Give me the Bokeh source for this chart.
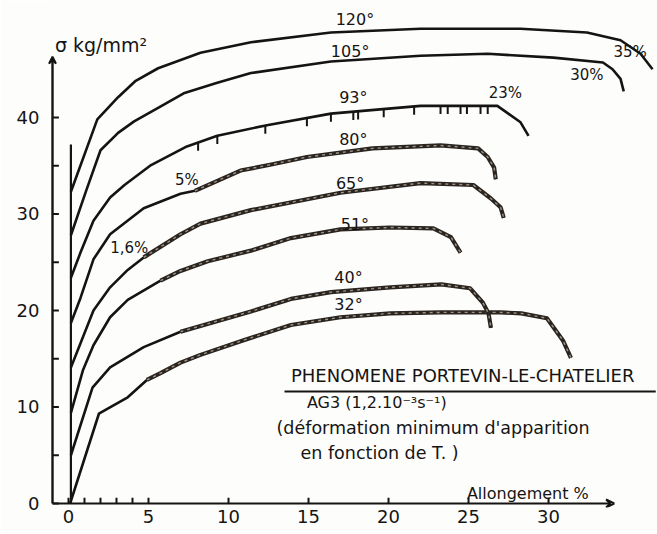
import numpy as np
from bokeh.plotting import figure
from bokeh.models import FixedTicker, Range1d, Label, Arrow, VeeHead
from bokeh.embed import file_html
from bokeh.resources import INLINE

# ---- data (strain %, stress kg/mm2) ----
temps = ["32°", "40°", "51°", "65°", "80°", "93°", "105°", "120°"]

c32_x = [0.1, 1.9, 3.7, 4.9, 5.75, 7.0, 8.25, 10.9, 13.9, 17.0, 20.1, 23.3, 27.0, 28.3, 29.9, 30.9, 31.4]
c32_y = [0.0, 9.3, 11.0, 12.8, 13.5, 14.6, 15.4, 16.9, 18.5, 19.3, 19.7, 19.8, 19.8, 19.7, 19.2, 16.9, 15.1]

c40_x = [0.15, 1.5, 2.6, 4.7, 7.0, 8.25, 11.4, 13.9, 16.4, 20.1, 23.3, 25.1, 25.9, 26.25, 26.4]
c40_y = [5.0, 12.0, 14.1, 16.2, 17.8, 18.4, 19.9, 21.2, 21.9, 22.4, 22.7, 22.3, 20.8, 19.7, 18.2]

c51_x = [0.15, 0.9, 1.56, 2.6, 3.7, 5.75, 7.0, 8.7, 11.4, 13.9, 17.0, 20.1, 22.8, 23.9, 24.5]
c51_y = [9.4, 13.8, 16.4, 19.3, 21.1, 23.1, 24.1, 25.1, 26.2, 27.5, 28.4, 28.6, 28.5, 27.6, 26.0]

c65_x = [0.15, 0.75, 1.56, 2.6, 3.7, 4.7, 7.0, 8.25, 11.4, 17.0, 22.0, 25.3, 26.4, 27.0, 27.2]
c65_y = [14.1, 16.6, 20.0, 22.4, 24.2, 25.5, 27.9, 29.0, 30.4, 32.2, 33.2, 33.0, 31.6, 30.7, 29.6]

c80_x = [0.15, 0.75, 1.56, 2.6, 4.7, 7.0, 7.9, 10.75, 12.6, 14.9, 19.0, 23.25, 25.6, 26.2, 26.6, 26.7]
c80_y = [18.7, 21.3, 25.3, 27.9, 30.6, 32.1, 32.4, 34.5, 35.1, 35.9, 36.8, 37.1, 36.8, 35.9, 34.8, 33.6]

c93_x = [0.15, 0.75, 1.56, 2.6, 3.5, 5.1, 7.4, 9.3, 12.4, 16.4, 22.0, 26.8, 27.4, 28.25, 28.75]
c93_y = [23.4, 26.0, 29.3, 31.7, 33.0, 35.0, 37.0, 38.1, 39.2, 40.4, 41.2, 41.2, 40.5, 39.5, 38.1]

c105_x = [0.15, 1.1, 2.0, 3.1, 4.1, 5.6, 7.2, 9.3, 11.4, 16.4, 22.0, 26.2, 30.3, 33.4, 34.0, 34.5, 34.7]
c105_y = [27.8, 32.4, 36.6, 38.4, 39.6, 41.0, 42.5, 43.6, 44.6, 45.8, 46.4, 46.6, 46.2, 45.7, 45.0, 44.0, 42.7]

c120_x = [0.15, 1.8, 3.1, 4.2, 5.6, 8.25, 11.4, 16.4, 22.0, 28.25, 32.4, 34.5, 35.75, 36.5]
c120_y = [32.3, 39.8, 42.1, 43.8, 45.1, 46.7, 47.8, 48.8, 49.2, 49.2, 48.8, 48.0, 46.6, 45.0]

# strain at which the serrated (Portevin-Le Chatelier) part of each curve begins
serr_start = [4.9, 7.0, 5.75, 4.7, 7.9, None, None, None]

# small serration marks on the 93° curve (strain %)
marks93 = [8.1, 9.3, 12.3, 14.9, 16.4, 17.8, 18.1, 19.7, 21.6, 23.25, 23.7, 24.5, 24.9, 25.75, 26.2]

# annotations of the onset / end strains
onset_labels = ["35%", "30%", "23%", "5%", "1,6%"]

x_ticks = [0, 5, 10, 15, 20, 25, 30]
x_minor = [1, 2, 3, 4]
y_ticks = [0, 10, 20, 30, 40]
y_minor = [5, 15, 25, 35]

curves_x = [c32_x, c40_x, c51_x, c65_x, c80_x, c93_x, c105_x, c120_x]
curves_y = [c32_y, c40_y, c51_y, c65_y, c80_y, c93_y, c105_y, c120_y]

INK = "#161412"
BG = "#fdfdfc"
FONT = "DejaVu Sans"

X0, Y0 = -1.0, 0.0  # where the drawn axes cross

p = figure(width=657, height=534, output_backend="svg", toolbar_location=None,
           x_range=Range1d(-1.3125, 36.81), y_range=Range1d(-0.415, 52.12),
           min_border_left=47, min_border_right=0, min_border_top=0, min_border_bottom=27)
p.background_fill_color = BG
p.border_fill_color = BG
p.outline_line_color = None
p.grid.visible = False

for ax, tk, mn in ((p.xaxis[0], x_ticks, x_minor), (p.yaxis[0], y_ticks, y_minor)):
    ax.ticker = FixedTicker(ticks=tk, minor_ticks=mn)
    ax.axis_line_color = None
    ax.major_tick_line_color = None
    ax.minor_tick_line_color = None
    ax.major_tick_in = 0
    ax.major_tick_out = 0
    ax.minor_tick_in = 0
    ax.minor_tick_out = 0
    ax.major_label_text_font = FONT
    ax.major_label_text_font_size = "18px"
    ax.major_label_text_color = INK
p.xaxis.major_label_standoff = 2
p.yaxis.major_label_standoff = 8

# hand-drawn axes with arrow heads
p.add_layout(Arrow(end=VeeHead(size=8, line_color=INK, line_width=2, fill_color=None),
                   x_start=X0, y_start=Y0, x_end=34.1, y_end=Y0, line_color=INK, line_width=2.2))
p.add_layout(Arrow(end=VeeHead(size=7, line_color=INK, line_width=2, fill_color=INK),
                   x_start=X0, y_start=Y0, x_end=X0, y_end=46.3, line_color=INK, line_width=2.4))
# tick marks pointing inwards
xt = x_ticks + x_minor
p.segment(x0=xt, y0=[Y0] * len(xt), x1=xt, y1=[Y0 + 0.6] * len(xt), line_color=INK, line_width=2)
yt = y_ticks + y_minor
p.segment(x0=[X0] * len(yt), y0=yt, x1=[X0 + 0.4] * len(yt), y1=yt, line_color=INK, line_width=2)

# origin line from which each curve starts
p.segment(x0=[0.15], y0=[0], x1=[0.15], y1=[37.2], line_color=INK, line_width=2.2)

for cx, cy, s in zip(curves_x, curves_y, serr_start):
    p.line(cx, cy, line_color=INK, line_width=2.6, line_join="round")
    if s is not None:
        k = cx.index(s)
        p.line(cx[k:], cy[k:], line_color="#2a2520", line_width=4.2, line_join="round")
        p.line(cx[k:], cy[k:], line_color="#9d9483", line_width=1.4, line_dash="3 4")

# serration marks on the 93° curve
m_y = np.interp(marks93, c93_x, c93_y)
p.segment(x0=marks93, y0=m_y, x1=marks93, y1=m_y - 0.85, line_color=INK, line_width=2)

# temperature labels
t_pos = [(17.5, 20.6), (17.5, 23.4), (17.9, 28.9), (17.6, 33.2), (17.8, 37.7), (17.8, 42.1), (17.6, 46.8), (17.9, 50.1)]
for t, (tx, ty) in zip(temps, t_pos):
    p.add_layout(Label(x=tx, y=ty, text=t, text_align="center", text_baseline="middle",
                       text_font=FONT, text_font_size="16px", text_color=INK))

o_pos = [(35.1, 46.8), (32.4, 44.4), (27.3, 42.5), (7.4, 33.5), (3.8, 26.5)]
for t, (tx, ty) in zip(onset_labels, o_pos):
    p.add_layout(Label(x=tx, y=ty, text=t, text_align="center", text_baseline="middle",
                       text_font=FONT, text_font_size="15px", text_color=INK))

def lab(x, y, t, size):
    p.add_layout(Label(x=x, y=y, text=t, text_align="left", text_baseline="middle",
                       text_font=FONT, text_font_size=size, text_color=INK))

lab(-0.85, 47.5, "σ kg/mm²", "19px")
lab(24.9, 1.05, "Allongement %", "16px")
lab(13.9, 13.3, "PHENOMENE PORTEVIN-LE-CHATELIER", "18px")
p.segment(x0=[13.5], y0=[11.6], x1=[36.7], y1=[11.6], line_color=INK, line_width=2)
lab(14.9, 10.45, "AG3 (1,2.10⁻³s⁻¹)", "16px")
lab(13.0, 7.8, "(déformation minimum d'apparition", "17.5px")
lab(14.5, 5.2, "en fonction de T. )", "17.5px")

open("out.html", "w").write(file_html(p, INLINE))
